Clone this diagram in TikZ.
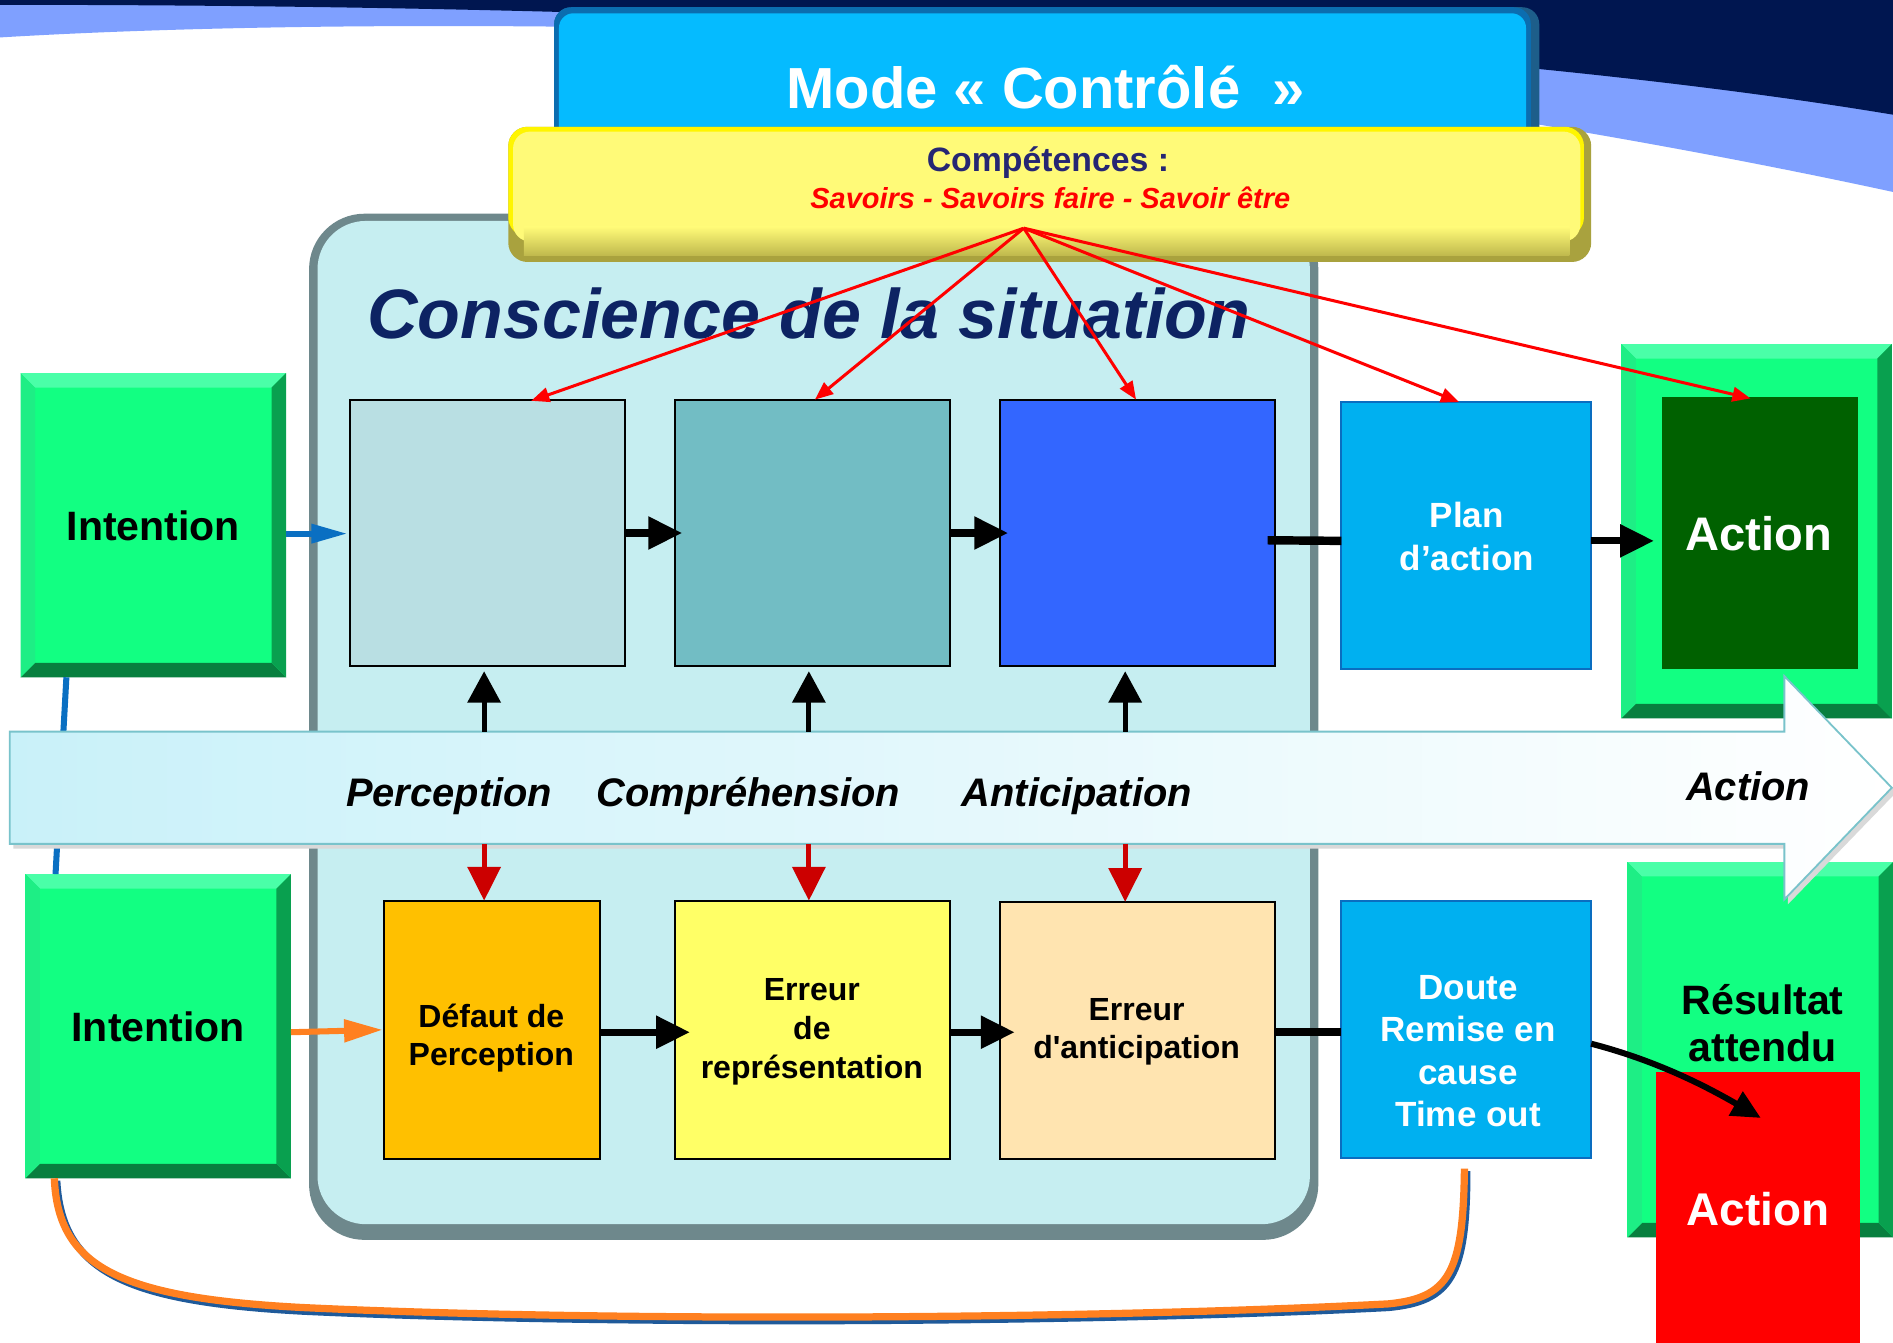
\documentclass[tikz,border=0pt]{standalone}
\usepackage{fontspec}
\setmainfont{Liberation Sans}
\usetikzlibrary{arrows.meta,calc}

\definecolor{navy}{HTML}{001650}
\definecolor{peri}{HTML}{7FA0FF}
\definecolor{modeblue}{HTML}{05BBFF}
\definecolor{modeedge}{HTML}{0B6DB0}
\definecolor{modedark}{HTML}{1D5E8A}
\definecolor{yface}{HTML}{FFFA78}
\definecolor{yedge}{HTML}{FFF500}
\definecolor{yrim}{HTML}{A9A23E}
\definecolor{panel}{HTML}{C6EEF1}
\definecolor{panelrim}{HTML}{6E888C}
\definecolor{titleblue}{HTML}{0D2363}
\definecolor{compnavy}{HTML}{262673}
\definecolor{gface}{HTML}{12FF82}
\definecolor{gtop}{HTML}{4AFFA8}
\definecolor{gleft}{HTML}{1EEE85}
\definecolor{gright}{HTML}{09A04F}
\definecolor{gbot}{HTML}{087F3F}
\definecolor{actgreen}{HTML}{006100}
\definecolor{pfill}{HTML}{B9DFE3}
\definecolor{cfill}{HTML}{72BDC4}
\definecolor{afill}{HTML}{3366FF}
\definecolor{planblue}{HTML}{00B0F0}
\definecolor{planedge}{HTML}{0A6DC0}
\definecolor{dfill}{HTML}{FFC000}
\definecolor{rfill}{HTML}{FFFF66}
\definecolor{efill}{HTML}{FFE4B0}
\definecolor{arrowcyan}{HTML}{C9F1F9}
\definecolor{arrowedge}{HTML}{79C3CB}
\definecolor{linkblue}{HTML}{0A6FC2}
\definecolor{linkorange}{HTML}{FF8020}
\definecolor{loopblue}{HTML}{1F5A9A}
\definecolor{downred}{HTML}{CC0000}

% bevelled rim of a green block: #1 depth, #2 node name
\newcommand\gbevel[2][12]{%
  \fill[gtop] (#2.north west) -- (#2.north east) -- ([shift={(-#1,#1)}]#2.north east) -- ([shift={(#1,#1)}]#2.north west) -- cycle;
  \fill[gbot] (#2.south west) -- (#2.south east) -- ([shift={(-#1,-#1)}]#2.south east) -- ([shift={(#1,-#1)}]#2.south west) -- cycle;
  \fill[gleft] (#2.north west) -- ([shift={(#1,#1)}]#2.north west) -- ([shift={(#1,-#1)}]#2.south west) -- (#2.south west) -- cycle;
  \fill[gright] (#2.north east) -- ([shift={(-#1,#1)}]#2.north east) -- ([shift={(-#1,-#1)}]#2.south east) -- (#2.south east) -- cycle;
}

\begin{document}
\begin{tikzpicture}[x=1pt,y=-1pt,
  every node/.style={inner sep=0pt,outer sep=0pt},
  gbox/.style={fill=gface},
  sqbox/.style={draw=black,line width=1.6pt},
  bluebox/.style={fill=planblue,draw=planedge,line width=1.5pt},
  lab/.style={anchor=base,align=center},
  boxfont/.style={font=\bfseries\fontsize{26.5}{32}\selectfont},
  bandfont/.style={font=\bfseries\itshape\fontsize{33}{38}\selectfont},
  blkarrow/.style={line width=6pt,-{Triangle[length=28pt,width=26pt]}},
  blkline/.style={line width=7pt},
  uparrow/.style={line width=4pt,-{Triangle[length=26pt,width=27pt]}},
  downarrow/.style={draw=downred,line width=4pt,-{Triangle[length=28pt,width=27pt]}},
  redlink/.style={draw=red,line width=2.5pt,-{Triangle[length=15pt,width=12pt]}},
  bluearrow/.style={draw=linkblue,line width=5pt,-{Triangle[length=30pt,width=15pt]}},
  orangearrow/.style={draw=linkorange,line width=5pt,-{Triangle[length=32pt,width=18pt]}},
  curvearrow/.style={line width=5pt,-{Triangle[length=24pt,width=22pt]}}
]
\useasboundingbox (0,0) rectangle (1568,1112);

% sky swoosh at the top
\fill[white] (0,0) rectangle (1568,1112);
\fill[peri] (0,0) -- (1568,0) -- (1568,159) .. controls (1250,90) and (800,25) .. (458,22) .. controls (250,20) and (100,25) .. (0,31) -- cycle;
\fill[navy] (0,0) -- (1568,0) -- (1568,95) .. controls (1250,42) and (700,4) .. (0,4) -- cycle;

% situation awareness panel
\fill[panelrim, rounded corners=46] (256,177) rectangle (1092,1027);
\fill[panel, rounded corners=40] (263,183) rectangle (1085,1014);
\node[lab, text=titleblue, font=\bfseries\itshape\fontsize{58}{64}\selectfont] (title) at (670,280) {Conscience de la situation};

% mode banner
\fill[modedark, rounded corners=14] (459,6) rectangle (1275,125);
\fill[modeedge, rounded corners=14] (459,6) rectangle (1268,125);
\fill[modeblue, rounded corners=12] (463,11) rectangle (1264,125);
\node[lab, text=white, font=\bfseries\fontsize{48}{54}\selectfont] (mode) at (866,90) {Mode « Contrôlé\ \ »};

% skills banner
\fill[yrim, rounded corners=16] (421,105) rectangle (1318,217);
\fill[yedge, rounded corners=16] (421,105) rectangle (1312,196);
\fill[yface, rounded corners=14] (425,109) rectangle (1309,200);
\shade[top color=yface, bottom color=yrim!75!yface] (434,188) rectangle (1300,212);
\node[lab, text=compnavy, font=\bfseries\fontsize{28}{32}\selectfont] (comp) at (868,142) {Compétences :};
\node[lab, text=red, font=\bfseries\itshape\fontsize{24}{28}\selectfont] (skills) at (870,172.6) {Savoirs - Savoirs faire - Savoir être};
\coordinate (src) at (848,189);

% intentions
\node[gbox, minimum width=220pt, minimum height=252pt] (int1) at (127,435) {};
\gbevel{int1}
\node[lab, font=\bfseries\fontsize{34}{40}\selectfont] (int1t) at (127,448) {Intention};
\node[gbox, minimum width=220pt, minimum height=252pt] (int2) at (131,850) {};
\gbevel{int2}
\node[lab, font=\bfseries\fontsize{34}{40}\selectfont] (int2t) at (131,862.8) {Intention};

% upper chain
\node[sqbox, fill=pfill, minimum width=228pt, minimum height=221pt] (perc) at (404,441.5) {};
\node[sqbox, fill=cfill, minimum width=228pt, minimum height=221pt] (compr) at (673,441.5) {};
\node[sqbox, fill=afill, minimum width=228pt, minimum height=221pt] (antic) at (942,441.5) {};
\node[bluebox, minimum width=207pt, minimum height=221pt] (plan) at (1214.5,443.5) {};
\node[lab, text=white, font=\bfseries\fontsize{29}{35.7}\selectfont] (plant) at (1215,472.7) {Plan\\d’action};

% lower chain
\node[sqbox, fill=dfill, minimum width=179pt, minimum height=214pt] (defaut) at (407.5,853) {};
\node[lab, boxfont] (defautt) at (407,882.8) {Défaut de\\Perception};
\node[sqbox, fill=rfill, minimum width=228pt, minimum height=214pt] (rep) at (673,853) {};
\node[lab, boxfont] (rept) at (672.5,893) {Erreur\\de\\représentation};
\node[sqbox, fill=efill, minimum width=228pt, minimum height=213pt] (anti) at (942,853.5) {};
\node[lab, boxfont] (antit) at (941.5,877) {Erreur\\d\textquotesingle anticipation};
\node[bluebox, minimum width=207pt, minimum height=213pt] (doute) at (1214.5,852.5) {};
\node[lab, text=white, font=\bfseries\fontsize{29}{35}\selectfont] (doutet) at (1216,933) {Doute\\Remise en\\cause\\Time out};

% action blocks
\node[gbox, minimum width=224pt, minimum height=310pt] (actframe) at (1455,440) {};
\gbevel{actframe}
\node[fill=actgreen, minimum width=162pt, minimum height=225pt] (actin) at (1458,441.5) {};
\node[lab, text=white, font=\bfseries\fontsize{39}{44}\selectfont] (actint) at (1457,456) {Action};
\node[gbox, minimum width=220pt, minimum height=311pt] (resbox) at (1458,869.5) {};
\gbevel{resbox}
\node[lab, font=\bfseries\fontsize{34}{39.6}\selectfont] (rest) at (1460,879.6) {Résultat\\attendu};

% link between the two intentions and the return loop
\draw[linkblue, line width=5pt] ($(int1.south)+(-72,0)$) -- ($(int2.north)+(-85,0)$);
\coordinate (loopA) at ($(int2.south)+(-86,0)$);
\coordinate (loopB) at ($(doute.south)+(-1.5,9)$);
\draw[loopblue, line width=6pt] ($(loopA)+(2,2)$) .. controls (51,1053) and (103,1078) .. (250,1086) .. controls (500,1098) and (900,1096) .. (1150,1083) .. controls (1202,1078) and (1215,1057) .. ($(loopB)+(2,2)$);
\draw[linkorange, line width=6pt] (loopA) .. controls (48,1050) and (100,1075) .. (250,1083) .. controls (500,1095) and (900,1093) .. (1150,1080) .. controls (1200,1075) and (1212,1055) .. (loopB);

% process band
\coordinate (bt) at (0,606);
\coordinate (bb) at (0,699);
\fill[black!15] (11,610) -- (1481,610) -- (1481,564) -- (1571,656) -- (1481,749) -- (1481,703) -- (11,703) -- cycle;
\path[draw=arrowedge, line width=1.5pt, left color=arrowcyan, right color=white]
  (8,606) -- (1478,606) -- (1478,560) -- (1567,652.5) -- (1478,745) -- (1478,699) -- (8,699) -- cycle;
\node[lab, bandfont] (bperc) at (372,667.7) {Perception};
\node[lab, bandfont] (bcomp) at (620,667.7) {Compréhension};
\node[lab, bandfont] (banti) at (892,667.7) {Anticipation};
\node[lab, bandfont] (bact) at (1448,662.7) {Action};

% failed action
\node[fill=red, minimum width=169pt, minimum height=226pt] (redact) at (1456.5,1001) {};
\node[lab, text=white, font=\bfseries\fontsize{38}{44}\selectfont] (redactt) at (1456,1015.3) {Action};

% flows
\draw[bluearrow] ($(int1.east)+(0,7)$) -- ($(perc.west)+(-2,0.5)$);
\draw[orangearrow] ($(int2.east)+(0,5)$) -- ($(defaut.west)+(-1,0)$);
\draw[blkarrow] (perc.east) -- ($(compr.west)+(6,0)$);
\draw[blkarrow] (compr.east) -- ($(antic.west)+(7,0)$);
\draw[blkline] ($(antic.east)+(-6,6)$) -- ($(plan.west)+(0,4.5)$);
\draw[blkarrow] ($(plan.east)+(0,4.5)$) -- ($(actin.west)+(-7,6.5)$);
\draw[blkarrow] ($(defaut.east)+(0,2)$) -- ($(rep.west)+(12.5,2)$);
\draw[blkarrow] ($(rep.east)+(0,2)$) -- ($(anti.west)+(12.5,1.5)$);
\draw[blkline] ($(anti.east)+(0,1.5)$) -- ($(doute.west)+(0,2.5)$);
\draw[curvearrow] ($(doute.east)+(0,12)$) .. controls (1370,878) and (1410,898) .. ($(redact.center)+(2,-75)$);

% band to chains
\draw[uparrow] ($(perc.south |- bt)+(-3,0)$) -- ($(perc.south)+(-3,4)$);
\draw[uparrow] ($(compr.south |- bt)+(-3,0)$) -- ($(compr.south)+(-3,4)$);
\draw[uparrow] ($(antic.south |- bt)+(-10,0)$) -- ($(antic.south)+(-10,4)$);
\draw[downarrow] ($(defaut.south |- bb)+(-6.5,0)$) -- ($(defaut.north)+(-6.5,0)$);
\draw[downarrow] ($(rep.south |- bb)+(-3,0)$) -- ($(rep.north)+(-3,0)$);
\draw[downarrow] ($(anti.south |- bb)+(-10,0)$) -- ($(anti.north)+(-10,0)$);

% skills feed every stage
\draw[redlink] (src) -- ($(perc.north)+(36,1)$);
\draw[redlink] (src) -- ($(compr.north)+(2,0)$);
\draw[redlink] (src) -- ($(antic.north)+(-1,0)$);
\draw[redlink] (src) -- ($(plan.north)+(-6,0)$);
\draw[redlink] (src) -- ($(actin.north)+(-8,1)$);
\end{tikzpicture}
\end{document}
